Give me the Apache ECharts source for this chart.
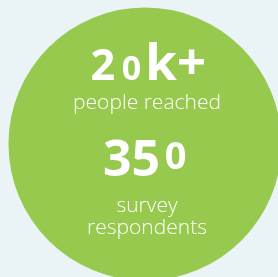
<!DOCTYPE html>
<html><head><meta charset="utf-8">
<script src="https://cdn.jsdelivr.net/npm/echarts@6/dist/echarts.min.js"></script>
<style>html,body{margin:0;padding:0;background:#eaf3f6;}#c{width:278px;height:277px;}</style>
</head><body><div id="c"></div>
<script>
// ---- data ----
const statValues = ['20k+', '350'];
const statLabels = ['people reached', 'survey\nrespondents'];
const circleValues = [1];

// ---- layout / style ----
const GREEN = '#97c94f';
const BG = '#eaf3f6';
const CX = 147;           // text centre x
const M = 0.26;           // baseline offset of 'middle' (em fraction)
const statLayout = [ { S: 51, baseline: 79 }, { S: 58, baseline: 168 } ];
const labelLayout = [ { size: 21, baseline: 108, lh: 22 }, { size: 21, baseline: 211.5, lh: 22 } ];

function charClass(ch) {
  if ('01'.includes(ch)) return 'lo';
  if (ch === '2') return 'mid';
  if ('34579'.includes(ch)) return 'desc';
  if ('68'.includes(ch)) return 'asc';
  return 'big';
}
function classStyle(cls, S) {
  const f = { lo: 0.66, mid: 0.84, desc: 0.86, asc: 0.86, big: 1 }[cls];
  const drop = cls === 'desc' ? 0.12 * S : 0;
  const hp = { lo: 0.08, mid: 0.05, desc: 0, asc: 0, big: 0 }[cls] * S;
  const s = Math.round(f * S);
  const pt = Math.max(0, 2 * (M * (S - s) + drop));
  return { fontSize: s, fontFamily: 'Open Sans', fontWeight: 700, fill: '#fff',
           verticalAlign: 'middle', padding: [pt, hp, 0, hp] };
}
function richify(str, S) {
  const rich = {};
  let out = '', cur = null, buf = '';
  const flush = () => { if (buf) { out += '{' + cur + '|' + buf + '}'; rich[cur] = classStyle(cur, S); } buf = ''; };
  for (const ch of str) {
    const c = charClass(ch);
    if (c !== cur) { flush(); cur = c; }
    buf += ch;
  }
  flush();
  return { text: out, rich };
}

const graphics = [];
statValues.forEach((v, i) => {
  const L = statLayout[i];
  const r = richify(v, L.S);
  graphics.push({ type: 'text', x: CX, y: L.baseline - M * L.S, z: 10,
    style: { text: r.text, rich: r.rich, align: 'center', verticalAlign: 'middle', fill: '#fff',
             font: '700 ' + L.S + 'px "Open Sans"' } });
});
statLabels.forEach((t, i) => {
  const L = labelLayout[i];
  const n = t.split('\n').length;
  const firstY = L.baseline - M * L.size;          // centre of first line
  graphics.push({ type: 'text', x: CX, y: firstY + (n - 1) * L.lh / 2, z: 10,
    style: { text: t, align: 'center', verticalAlign: 'middle', fill: '#fff', lineHeight: L.lh,
             font: '300 ' + L.size + 'px "Open Sans"' } });
});

const chart = echarts.init(document.getElementById('c'), null, { renderer: 'canvas' });
chart.setOption({
  backgroundColor: BG,
  animation: false,
  series: [{
    type: 'pie', center: [145, 144], radius: [0, 136.5], silent: true,
    data: circleValues.map(v => ({ value: v })),
    itemStyle: { color: GREEN, borderWidth: 0 },
    label: { show: false }, labelLine: { show: false }, emphasis: { disabled: true }
  }],
  graphic: graphics
});
</script></body></html>
